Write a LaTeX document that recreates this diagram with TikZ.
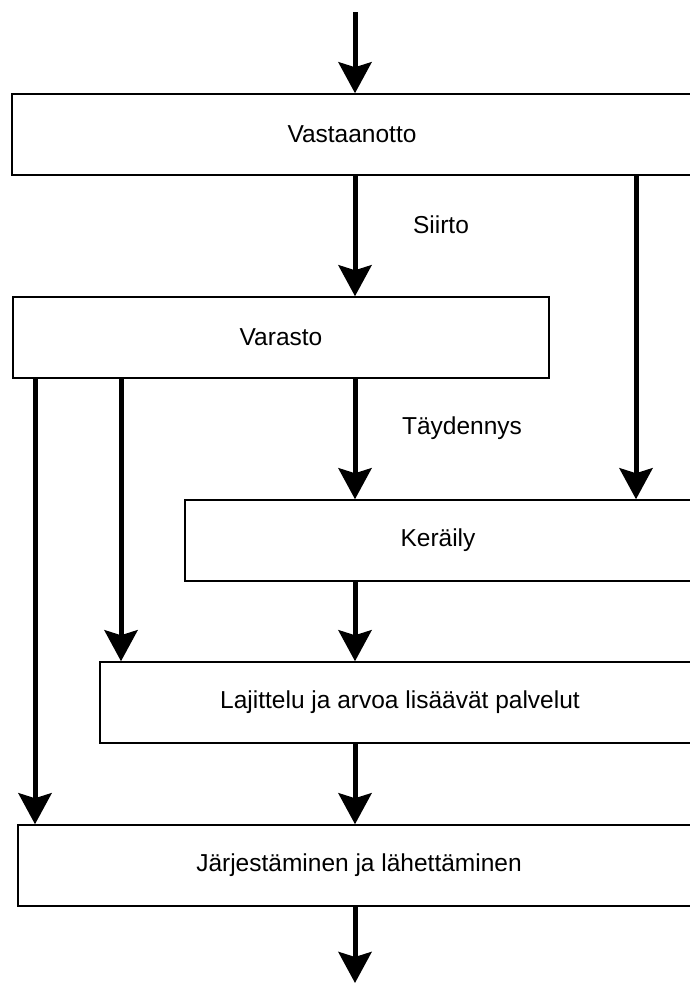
\documentclass[tikz,border=0pt]{standalone}
\usepackage{fontspec}
\setmainfont{Liberation Sans}
\usetikzlibrary{arrows.meta}
\begin{document}
\begin{tikzpicture}[x=1pt,y=-1pt,
                    stage/.style={rectangle,draw,line width=1.5pt,minimum height=81pt,inner sep=0pt,
                                  font=\fontsize{24.5}{29}\selectfont},
                    flow/.style={line width=5pt,-{Stealth[length=31pt,width=33pt,inset=5pt]}},
                    lbl/.style={font=\fontsize{24.5}{29}\selectfont}]
    \clip (0,0) rectangle (690,983);
    % columns of the arrows
    \coordinate (in) at (355,12);
    \coordinate (out) at (355,983);
    \coordinate (c2) at (636,0);
    \coordinate (c3) at (121,0);
    \coordinate (c4) at (35,0);
    \node[stage,minimum width=680pt] (vast) at (352,134.5) {Vastaanotto};
    \node[stage,minimum width=536pt] (var) at (281,337.5) {Varasto};
    \node[stage,minimum width=506pt] (ker) at (438,540.5) {Keräily};
    \node[stage,minimum width=600pt] (laj) at (400,702.5) {Lajittelu ja arvoa lisäävät palvelut};
    \node[stage,minimum width=682pt] (jarj) at (359,865.5) {Järjestäminen ja lähettäminen};
    \node[lbl] (siirto) at (441,225) {Siirto};
    \node[lbl] (tayd) at (462,428) {Täydennys};
    \draw[flow] (in) -- (vast.north -| in);
    \draw[flow] (vast.south -| in) -- (var.north -| in);
    \draw[flow] (vast.south -| c2) -- (ker.north -| c2);
    \draw[flow] (var.south -| in) -- (ker.north -| in);
    \draw[flow] (var.south -| c3) -- (laj.north -| c3);
    \draw[flow] (var.south -| c4) -- (jarj.north -| c4);
    \draw[flow] (ker.south -| in) -- (laj.north -| in);
    \draw[flow] (laj.south -| in) -- (jarj.north -| in);
    \draw[flow] (jarj.south -| in) -- (out);
\end{tikzpicture}
\end{document}
